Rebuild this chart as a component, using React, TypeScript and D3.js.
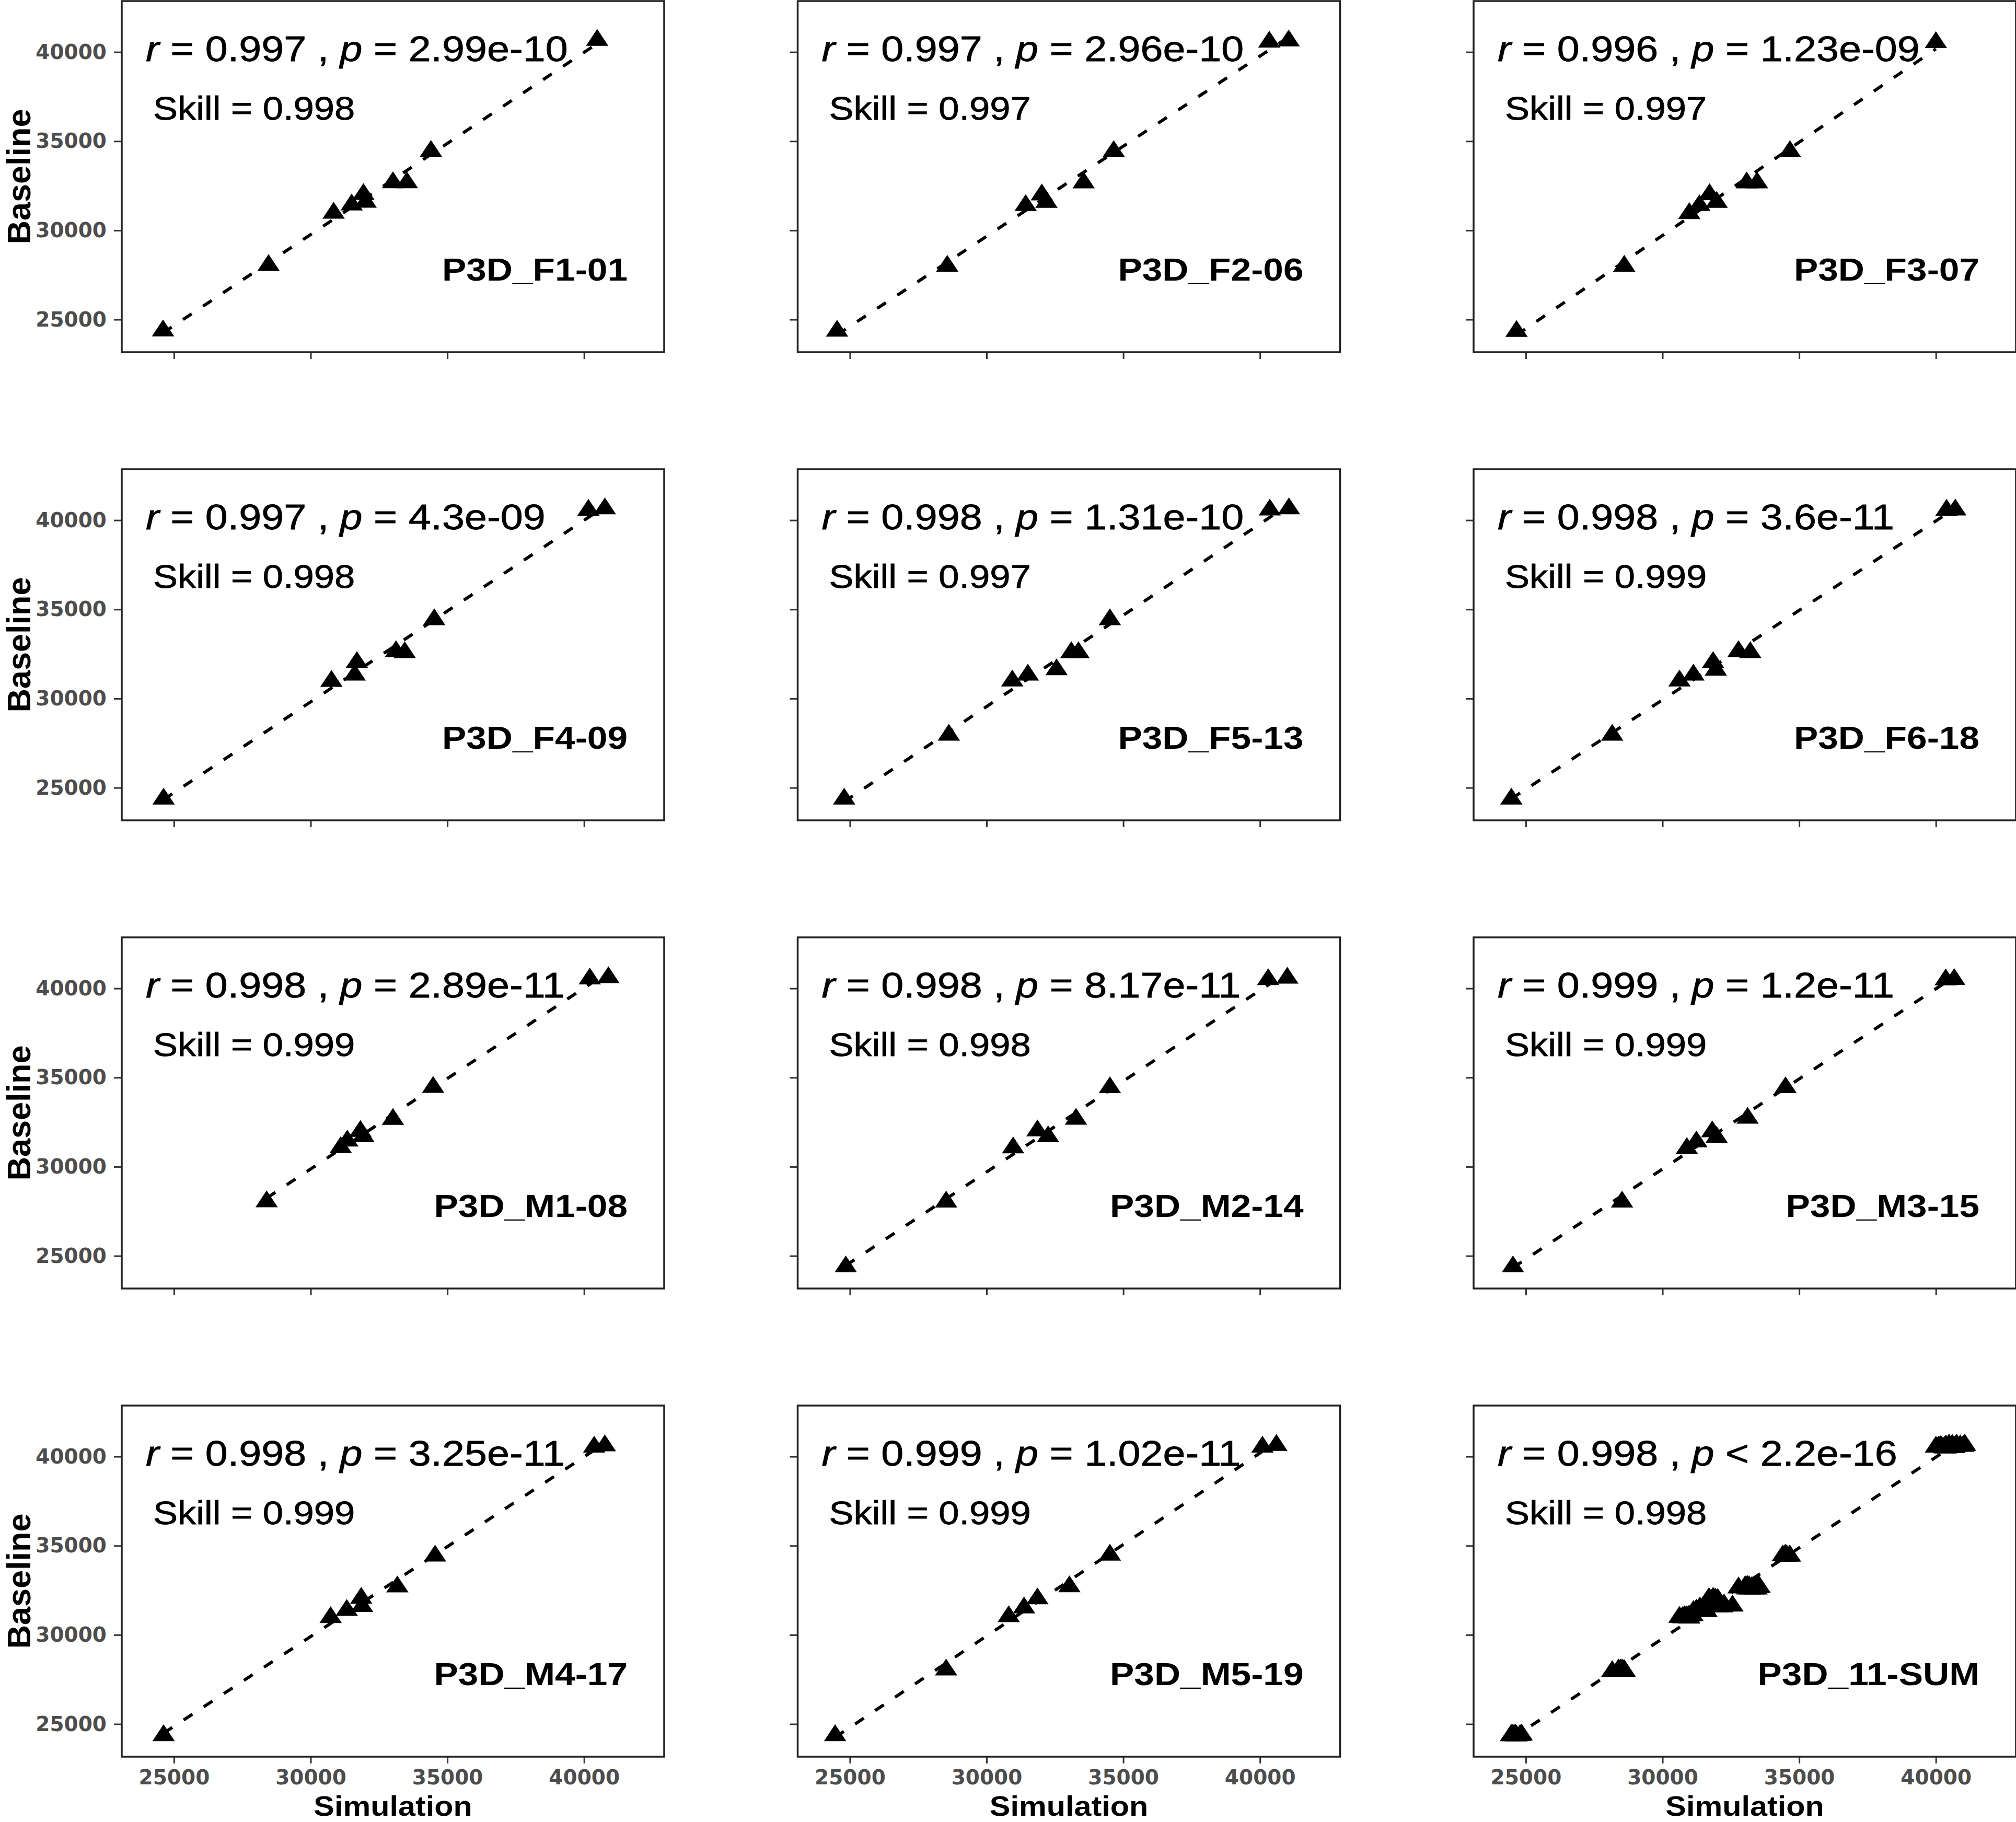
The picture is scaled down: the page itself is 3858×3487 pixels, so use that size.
import React, { useRef, useEffect } from "react";
import * as d3 from "d3";

// Panel titles and the stats printed in each panel
const panelNames = [
  "P3D_F1-01", "P3D_F2-06", "P3D_F3-07",
  "P3D_F4-09", "P3D_F5-13", "P3D_F6-18",
  "P3D_M1-08", "P3D_M2-14", "P3D_M3-15",
  "P3D_M4-17", "P3D_M5-19", "P3D_11-SUM",
];
const rLabels = ["0.997", "0.997", "0.996", "0.997", "0.998", "0.998", "0.998", "0.998", "0.999", "0.998", "0.999", "0.998"];
const pLabels = ["= 2.99e-10", "= 2.96e-10", "= 1.23e-09", "= 4.3e-09", "= 1.31e-10", "= 3.6e-11", "= 2.89e-11", "= 8.17e-11", "= 1.2e-11", "= 3.25e-11", "= 1.02e-11", "< 2.2e-16"];
const skillLabels = ["0.998", "0.997", "0.997", "0.998", "0.997", "0.999", "0.999", "0.998", "0.999", "0.999", "0.999", "0.998"];

const xTicks = [25000, 30000, 35000, 40000];
const yTicks = [25000, 30000, 35000, 40000];

// Simulation (x) / Baseline (y) per station
const simF1 = [24600, 28460, 30840, 31500, 31930, 32010, 33010, 33520, 34400, 40480];
const baseF1 = [24370, 28040, 30970, 31430, 32020, 31590, 32680, 32680, 34440, 40660];
const simF2 = [24530, 28560, 31430, 32020, 32190, 33550, 34650, 40340, 41050];
const baseF2 = [24360, 28000, 31400, 32000, 31580, 32670, 34430, 40570, 40630];
const simF3 = [24660, 28600, 30980, 31350, 31720, 31980, 33080, 33460, 34660, 40000];
const baseF3 = [24340, 28000, 30950, 31400, 32010, 31580, 32670, 32670, 34430, 40540];
const simF4 = [24620, 30760, 31610, 31690, 33120, 33440, 34520, 40160, 40760];
const baseF4 = [24370, 30970, 31320, 32030, 32640, 32580, 34430, 40570, 40650];
const simF5 = [24790, 28620, 30940, 31510, 32560, 33100, 33360, 34510, 40360, 41060];
const baseF5 = [24370, 27950, 30990, 31320, 31620, 32580, 32580, 34430, 40580, 40650];
const simF6 = [24470, 28160, 30620, 31130, 31850, 31950, 32780, 33210, 40390, 40710];
const baseF6 = [24370, 27950, 30990, 31320, 32030, 31600, 32640, 32580, 40570, 40580];
const simM1 = [28390, 31100, 31340, 31820, 31930, 33010, 34480, 40210, 40890];
const baseM1 = [28040, 31080, 31450, 31990, 31690, 32660, 34460, 40540, 40610];
const simM2 = [24850, 28520, 30970, 31860, 32250, 33270, 34510, 40300, 41000];
const baseM2 = [24390, 28030, 31070, 32020, 31690, 32670, 34440, 40500, 40580];
const simM3 = [24530, 28520, 30890, 31240, 31820, 31980, 33110, 34500, 40360, 40670];
const baseM3 = [24390, 28030, 31030, 31400, 31970, 31650, 32730, 34440, 40490, 40510];
const simM4 = [24620, 30730, 31320, 31850, 31880, 33170, 34550, 40370, 40760];
const baseM4 = [24360, 30980, 31380, 32060, 31600, 32700, 34430, 40540, 40610];
const simM5 = [24460, 28520, 30810, 31370, 31860, 33030, 34510, 40090, 40600];
const baseM5 = [24360, 28040, 31030, 31520, 32030, 32710, 34480, 40540, 40630];

const stationSim = [simF1, simF2, simF3, simF4, simF5, simF6, simM1, simM2, simM3, simM4, simM5];
const stationBase = [baseF1, baseF2, baseF3, baseF4, baseF5, baseF6, baseM1, baseM2, baseM3, baseM4, baseM5];

// layout
const W = 3858;
const H = 3487;
const panelW = 1038;
const panelH = 672;
const left0 = 233;
const top0 = 2;
const colStep = 1293.5;
const rowStep = 896;
const SANS = "'Liberation Sans', Arial, sans-serif";
const STRETCH = 1.12;

export default function App() {
  const svgRef = useRef<SVGSVGElement>(null);

  useEffect(() => {
    if (!svgRef.current) return;
    const svg = d3.select(svgRef.current);
    svg.selectAll("*").remove();

    const x = d3.scaleLinear().domain([23090, 42930]).range([0, panelW]);
    const y = d3.scaleLinear().domain([23170, 42860]).range([panelH, 0]);
    const tri = d3.symbol().type(d3.symbolTriangle).size(600)();

    // pooled panel = all stations together
    const sims = [...stationSim, stationSim.flat()];
    const bases = [...stationBase, stationBase.flat()];

    panelNames.forEach((name, i) => {
      const col = i % 3;
      const row = Math.floor(i / 3);
      const g = svg
        .append("g")
        .attr("transform", `translate(${left0 + col * colStep},${top0 + row * rowStep})`);

      // axes
      const ya = g
        .append("g")
        .call(
          d3.axisLeft(y).tickValues(yTicks).tickSize(15).tickPadding(14)
            .tickFormat((d) => (col === 0 ? String(d) : ""))
        );
      const xa = g
        .append("g")
        .attr("transform", `translate(0,${panelH})`)
        .call(
          d3.axisBottom(x).tickValues(xTicks).tickSize(13).tickPadding(12)
            .tickFormat((d) => (row === 3 ? String(d) : ""))
        );
      [ya, xa].forEach((ax) => {
        ax.select(".domain").remove();
        ax.selectAll("line").attr("stroke", "#333").attr("stroke-width", 3);
        ax.selectAll("text")
          .attr("font-family", "'DejaVu Sans', sans-serif")
          .attr("font-weight", "bold")
          .attr("font-size", 39)
          .attr("fill", "#4D4D4D");
      });

      g.append("rect")
        .attr("width", panelW)
        .attr("height", panelH)
        .attr("fill", "none")
        .attr("stroke", "#222")
        .attr("stroke-width", 3.5);

      const sim = sims[i];
      const base = bases[i];

      // points
      g.selectAll("path.pt")
        .data(d3.zip(sim, base))
        .join("path")
        .attr("class", "pt")
        .attr("d", tri)
        .attr("transform", ([sx, by]) => `translate(${x(sx)},${y(by)}) scale(1.15,1)`)
        .attr("fill", "#000");

      // least squares fit, dashed
      const mx = d3.mean(sim) as number;
      const my = d3.mean(base) as number;
      const slope =
        d3.sum(sim.map((v, k) => (v - mx) * (base[k] - my))) /
        d3.sum(sim.map((v) => (v - mx) ** 2));
      const icpt = my - slope * mx;
      const [xa0, xa1] = d3.extent(sim) as [number, number];
      g.append("line")
        .attr("x1", x(xa0))
        .attr("y1", y(icpt + slope * xa0))
        .attr("x2", x(xa1))
        .attr("y2", y(icpt + slope * xa1))
        .attr("stroke", "#000")
        .attr("stroke-width", 6)
        .attr("stroke-dasharray", "20 26");

      // annotations
      const rt = g
        .append("text")
        .attr("transform", `translate(46,115) scale(${STRETCH},1)`)
        .attr("font-family", SANS)
        .attr("font-size", 69)
        .attr("stroke", "#000")
        .attr("stroke-width", 0.8)
        .style("white-space", "pre");
      rt.append("tspan").attr("font-style", "italic").text("r");
      rt.append("tspan").text(` = ${rLabels[i]} , `);
      rt.append("tspan").attr("font-style", "italic").text("p");
      rt.append("tspan").text(` ${pLabels[i]}`);

      g.append("text")
        .attr("transform", `translate(60,227) scale(${STRETCH},1)`)
        .attr("font-family", SANS)
        .attr("font-size", 63)
        .attr("stroke", "#000")
        .attr("stroke-width", 0.8)
        .text(`Skill = ${skillLabels[i]}`);

      g.append("text")
        .attr("transform", `translate(968,535) scale(${STRETCH},1)`)
        .attr("text-anchor", "end")
        .attr("font-family", SANS)
        .attr("font-weight", "bold")
        .attr("font-size", 62)
        .text(name);

      if (col === 0) {
        g.append("text")
          .attr("transform", `translate(${58 - left0},${panelH / 2}) rotate(-90)`)
          .attr("text-anchor", "middle")
          .attr("font-family", SANS)
          .attr("font-weight", "bold")
          .attr("font-size", 63)
          .text("Baseline");
      }
      if (row === 3) {
        g.append("text")
          .attr("transform", `translate(${panelW / 2},${H - 12 - (top0 + row * rowStep)}) scale(${STRETCH},1)`)
          .attr("text-anchor", "middle")
          .attr("font-family", SANS)
          .attr("font-weight", "bold")
          .attr("font-size", 53)
          .text("Simulation");
      }
    });
  }, []);

  return (
    <svg
      ref={svgRef}
      width={W}
      height={H}
      style={{ position: "absolute", left: 0, top: 0, background: "#fff" }}
    />
  );
}
